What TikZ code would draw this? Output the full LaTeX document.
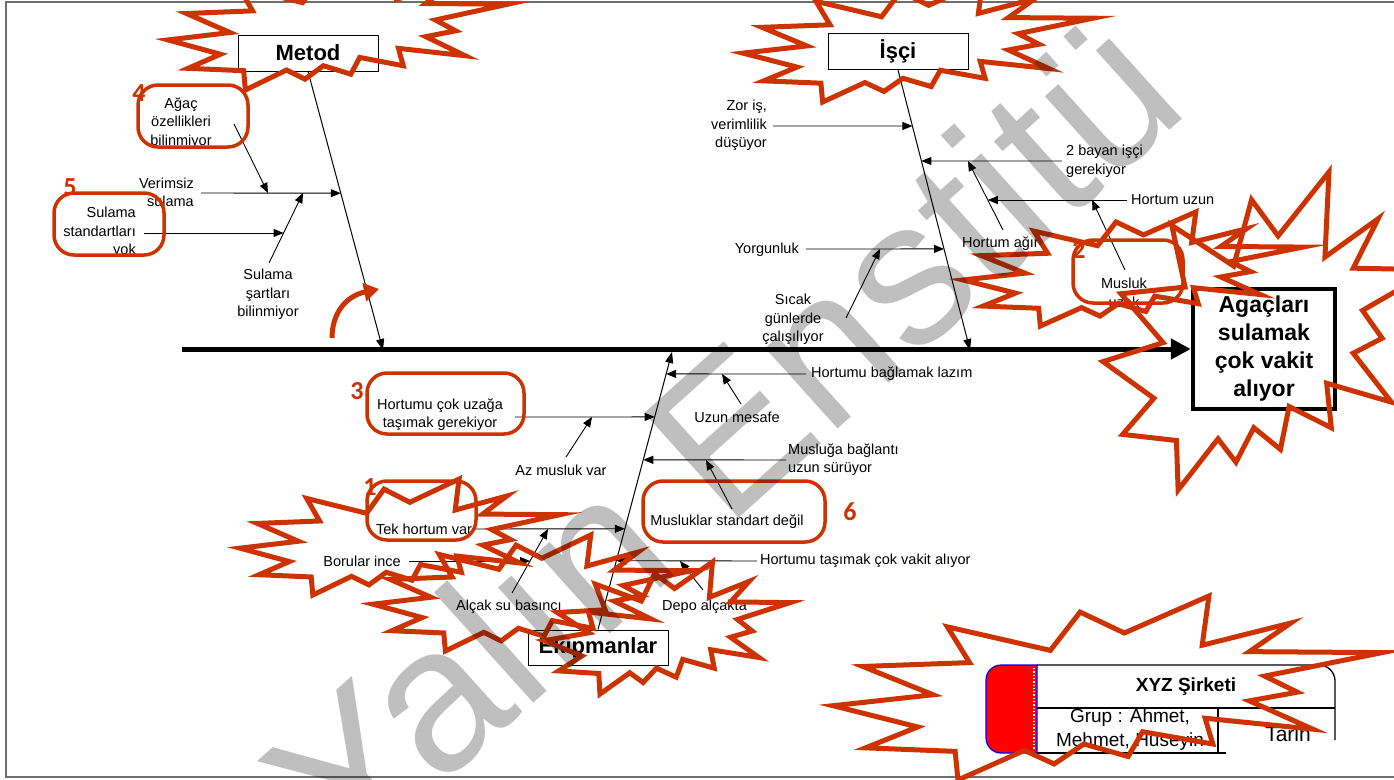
\documentclass[tikz,border=0pt]{standalone}
\usepackage{fontspec}
\setmainfont{Liberation Sans}
\newfontfamily\numfont{Carlito}
\usetikzlibrary{arrows.meta,calc}
\definecolor{redc}{RGB}{204,51,0}
\definecolor{framegray}{RGB}{110,110,110}

% irregular explosion outline: [style]{x0}{y0}{width/100}{height/100}
\newcommand\explosion[5][]{%
  \begin{scope}[shift={(#2,#3)}, xscale=#4, yscale=#5]
    \draw[burst,#1] (53.06,20.10) -- (68.47,0) -- (67.25,26.75) -- (83.37,14.69)
      -- (75.83,30.24) -- (100,30.76) -- (78.63,43.53) -- (84.58,52.27)
      -- (75.83,56.99) -- (87.39,72.37) -- (67.78,66.44) -- (69.18,80.42)
      -- (56.39,73.77) -- (53.76,87.23) -- (45.70,80.42) -- (40.28,91.26)
      -- (34.85,83.91) -- (22.76,100) -- (22.25,84.44) -- (5.95,82.52)
      -- (15.42,71.16) -- (0,59.62) -- (18.22,53.67) -- (5.43,38.29)
      -- (24.87,36.19) -- (20.84,16.78) -- (39.58,29.55) -- (45.01,8.74) -- cycle;
  \end{scope}}

\begin{document}
\begin{tikzpicture}[x=1pt,y=-1pt,
  lbl/.style={font=\fontsize{14.5}{18.5}\selectfont, inner sep=0pt, align=center},
  cat/.style={draw=black, line width=1pt, fill=white, inner sep=0pt,
    minimum width=140pt, minimum height=36pt, font=\fontsize{22}{26}\selectfont\bfseries},
  conn/.style={line width=0.9pt, -{Triangle[length=10pt,width=8pt]}},
  bone/.style={line width=1pt, -{Triangle[length=11pt,width=8pt]}},
  redbox/.style={draw=redc, line width=3.5pt, rounded corners=20pt, inner sep=0pt},
  num/.style={text=redc, inner sep=0pt, font=\numfont\bfseries\fontsize{26}{26}\selectfont},
  burst/.style={draw=redc, line width=5pt, line join=miter}]

\useasboundingbox (0,0) rectangle (1394,779);
\fill[white] (0,0) rectangle (1394,779);
\draw[framegray, line width=1.2pt] (1394,2) -- (6,2) -- (6,777) -- (1394,777);

% ---------- effect box and spine ----------
\node[draw=black, line width=4.5pt, fill=white, minimum width=142pt, minimum height=120pt,
  inner sep=0pt, align=center, font=\fontsize{23}{28}\selectfont\bfseries]
  (goal) at (1264,349) {Agaçları\\sulamak\\çok vakit\\alıyor};
\coordinate (spineL) at (182,349);
\draw[line width=5pt, -{Triangle[length=20pt,width=20pt]}] (spineL) -- (goal.west);

% ---------- category boxes and bones ----------
\node[cat] (metod) at (308,53) {Metod};
\node[cat] (isci) at (898,51.5) {İşçi};
\node[cat, minimum height=35pt] (ekip) at (598,647.5) {Ekipmanlar};
\coordinate (mEnd) at (383,350);
\coordinate (iEnd) at (970,350);
\coordinate (eEnd) at (672,352);
\draw[bone] (metod.south) -- (mEnd);
\draw[bone] (isci.south) -- (iEnd);
\draw[bone] (ekip.north) -- (eEnd);

% ---------- Metod causes ----------
\node[lbl, anchor=east, align=right] (verimsiz) at (194,192.5) {Verimsiz\\sulama};
\node[lbl] (agac) at (181,123) {Ağaç\\özellikleri\\bilinmiyor};
\node[lbl, anchor=east, align=right] (stand) at (136,232.5) {Sulama\\standartları\\yok};
\node[lbl] (sart) at (268,294.5) {Sulama\\şartları\\bilinmiyor};
\coordinate (verS) at (201,193);
\coordinate (verE) at ($(metod.south)!0.437!(mEnd)$);
\coordinate (agS) at (234,124);
\coordinate (agE) at (268,193);
\coordinate (stS) at (144,233);
\coordinate (stE) at (283.6,233);
\coordinate (saS) at (269,263);
\coordinate (saE) at (303,193);
\draw[conn] (verS) -- (verE);
\draw[conn] (agS) -- (agE);
\draw[conn] (stS) -- (stE);
\draw[conn] (saS) -- (saE);

% ---------- İşçi causes ----------
\node[lbl, anchor=east, align=right] (zor) at (767,125.5) {Zor iş,\\verimlilik\\düşüyor};
\node[lbl, anchor=west, align=left] (bayan) at (1066,161) {2 bayan işçi\\gerekiyor};
\node[lbl, anchor=west] (agir) at (962,244) {Hortum ağır};
\node[lbl, anchor=west] (uzun) at (1131,200) {Hortum uzun};
\node[lbl] (musluk) at (1124,293) {Musluk\\uzak};
\node[lbl, anchor=east] (yorg) at (799,250) {Yorgunluk};
\node[lbl] (sicak) at (793,319.5) {Sıcak\\günlerde\\çalışılıyor};
\coordinate (zorS) at (773,126);
\coordinate (zorE) at ($(isci.south)!0.2!(iEnd)$);
\coordinate (bayS) at (1062,161);
\coordinate (bayE) at ($(isci.south)!0.325!(iEnd)$);
\coordinate (agiS) at (1003,230);
\coordinate (agiE) at (968,161);
\coordinate (uzuS) at (1127,200);
\coordinate (uzuE) at (987.8,200);
\coordinate (musS) at (1125,270);
\coordinate (musE) at (1092,200);
\coordinate (yorS) at (806,249);
\coordinate (yorE) at ($(isci.south)!0.639!(iEnd)$);
\coordinate (sicS) at (846,318);
\coordinate (sicE) at (880,249);
\draw[conn] (zorS) -- (zorE);
\draw[conn] (bayS) -- (bayE);
\draw[conn] (agiS) -- (agiE);
\draw[conn] (uzuS) -- (uzuE);
\draw[conn] (musS) -- (musE);
\draw[conn] (yorS) -- (yorE);
\draw[conn] (sicS) -- (sicE);

% ---------- Ekipmanlar causes ----------
\node[lbl, anchor=west] (bagla) at (811,374) {Hortumu bağlamak lazım};
\node[lbl] (mesafe) at (737,417) {Uzun mesafe};
\node[lbl] (uzaga) at (440,414.5) {Hortumu çok uzağa\\taşımak gerekiyor};
\node[lbl] (azm) at (561,470) {Az musluk var};
\node[lbl, anchor=west, align=left] (baglanti) at (788,459.5) {Musluğa bağlantı\\uzun sürüyor};
\node[lbl] (standart) at (727,522) {Musluklar standart değil};
\node[lbl] (tek) at (424,529) {Tek hortum var};
\node[lbl, anchor=east] (boru) at (401,561) {Borular ince};
\node[lbl, anchor=west] (tasi) at (760,561) {Hortumu taşımak çok vakit alıyor};
\node[lbl, anchor=west] (alcak) at (456,607) {Alçak su basıncı};
\node[lbl, anchor=west] (depo) at (662,607) {Depo alçakta};
\coordinate (bagS) at (806,374);
\coordinate (bagE) at ($(ekip.north)!0.921!(eEnd)$);
\coordinate (mesS) at (741,404);
\coordinate (mesE) at (722,374);
\coordinate (uzaS) at (515,417);
\coordinate (uzaE) at ($(ekip.north)!0.766!(eEnd)$);
\coordinate (azS) at (566,457);
\coordinate (azE) at (592,417);
\coordinate (bgtS) at (786,460);
\coordinate (bgtE) at ($(ekip.north)!0.6115!(eEnd)$);
\coordinate (stdS) at (732,509);
\coordinate (stdE) at (706,460);
\coordinate (tekS) at (473,529);
\coordinate (tekE) at ($(ekip.north)!0.363!(eEnd)$);
\coordinate (borS) at (409,561);
\coordinate (borE) at (530,561);
\coordinate (tasS) at (757,561);
\coordinate (tasE) at ($(ekip.north)!0.248!(eEnd)$);
\coordinate (alcS) at (512,593);
\coordinate (alcE) at (548,529);
\coordinate (depS) at (703,590);
\coordinate (depE) at (680,561);
\draw[conn] (bagS) -- (bagE);
\draw[conn] (mesS) -- (mesE);
\draw[conn] (uzaS) -- (uzaE);
\draw[conn] (azS) -- (azE);
\draw[conn] (bgtS) -- (bgtE);
\draw[conn] (stdS) -- (stdE);
\draw[conn] (tekS) -- (tekE);
\draw[conn] (borS) -- (borE);
\draw[conn] (tasS) -- (tasE);
\draw[conn] (alcS) -- (alcE);
\draw[conn] (depS) -- (depE);

% ---------- title block ----------
\filldraw[fill=red, draw=blue, line width=1.2pt]
  (1037,665) [rounded corners=15pt] -- (986,665) -- (986,753) [sharp corners] -- (1037,753) -- cycle;
\draw[white, line width=1.3pt, dotted] (1034,668) -- (1034,750);
\draw[line width=1.3pt] (1037,665) [rounded corners=16pt] -- (1335,665) -- (1335,740);
\draw[line width=1.3pt] (1037,708) -- (1335,708);
\draw[line width=1.3pt] (1218,708) -- (1218,753);
\draw[line width=1.3pt] (1037,753) -- (1226,753);
\node[inner sep=0pt, font=\fontsize{19}{22}\selectfont\bfseries] (firm) at (1186,687) {XYZ Şirketi};
\node[inner sep=0pt, align=center, font=\fontsize{19}{24}\selectfont] (grup) at (1130,730) {Grup : Ahmet,\\Mehmet, Hüseyin};
\node[inner sep=0pt, font=\fontsize{21}{24}\selectfont] (tarih) at (1288,734) {Tarih};

% ---------- highlight boxes and their numbers ----------
\node[redbox, minimum width=110pt, minimum height=62pt] (hl4) at (193,116) {};
\node[redbox, minimum width=110pt, minimum height=62pt] (hl5) at (109,224) {};
\node[redbox, minimum width=157pt, minimum height=61pt] (hl3) at (445.5,403.5) {};
\node[redbox, minimum width=109pt, minimum height=59pt] (hl1) at (421.5,510.5) {};
\node[redbox, minimum width=182pt, minimum height=61pt] (hl6) at (734,511.5) {};
\node[redbox, minimum width=110pt, minimum height=63pt] (hl2) at (1128,271.5) {};
\node[num] (n4) at (139,93) {4};
\node[num] (n5) at (70,187) {5};
\node[num] (n3) at (357,391) {3};
\node[num] (n1) at (370,487) {1};
\node[num] (n2) at (1079,250) {2};
\node[num] (n6) at (850,512) {6};

% curved turning arrow beside the Metod bone
\coordinate (curlA) at (332,338);
\coordinate (curlB) at (379,289);
\draw[redc, line width=5pt, -{Triangle[length=15pt,width=18pt]}]
  (curlA) .. controls (332,313) and (346,296) .. (curlB);

% ---------- explosion outlines ----------
\explosion{168}{-34}{3.40}{1.24}
\explosion{743}{-19}{3.50}{1.21}
\explosion{963}{212}{3.40}{1.14}
\explosion{1103}{172}{3.30}{3.18}
\explosion{240}{479}{3.20}{1.16}
\explosion{373}{535}{3.18}{1.16}
\explosion{544}{562}{2.46}{1.32}
\explosion{833}{596}{5.49}{1.84}

% ---------- watermark ----------
\node[rotate=42, anchor=base, inner sep=0pt, text=black, text opacity=0.25,
  font=\fontsize{205}{205}\selectfont] (wm) at (770,490) {Yalın Enstitü};
\end{tikzpicture}
\end{document}
